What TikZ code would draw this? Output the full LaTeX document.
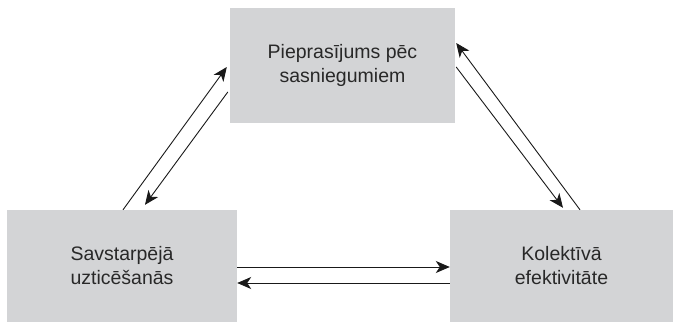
\documentclass[tikz,border=0pt]{standalone}
\usepackage{fontspec}
\setmainfont{Liberation Sans}
\usepackage{tikz}
\usetikzlibrary{arrows.meta,positioning,calc}
\definecolor{boxgray}{RGB}{211,212,214}
\definecolor{textgray}{RGB}{40,40,40}
\definecolor{linegray}{RGB}{25,25,25}

\begin{document}
\begin{tikzpicture}[
    x=1pt, y=1pt,
    factor/.style={rectangle, fill=boxgray, text=textgray, inner sep=0pt, align=center, font=\fontsize{19.5}{24}\selectfont},
    arrow/.style={-{Stealth[length=14pt, width=12pt, inset=4pt]}, draw=linegray, line width=0.9pt}
]
    \useasboundingbox (0,0) rectangle (673,322);

    % Factors
    \node[factor, minimum width=225pt, minimum height=115pt] (pieprasijums) at (342.5,256.5) {Pieprasījums pēc\\sasniegumiem};
    \node[factor, minimum width=230pt, minimum height=112pt] (uzticesanas) at (122,56) {Savstarpējā\\uzticēšanās};
    \node[factor, minimum width=223pt, minimum height=112pt] (efektivitate) at (561.5,56) {Kolektīvā\\efektivitāte};

    % Arrows
    \draw[arrow] ($(uzticesanas.north)+(1,0)$) -- ($(pieprasijums.west)+(-3,-1.5)$);
    \draw[arrow] ($(pieprasijums.west)+(-2,-26.5)$) -- ($(uzticesanas.north)+(23,5)$);
    \draw[arrow] ($(efektivitate.north)+(18.5,0)$) -- ($(pieprasijums.east)+(1,22.5)$);
    \draw[arrow] ($(pieprasijums.east)+(1,-1.5)$) -- ($(efektivitate.north)+(1.5,2)$);
    \draw[arrow] ([yshift=-1pt]uzticesanas.east) -- ([yshift=-1pt]efektivitate.west);
    \draw[arrow] ([yshift=-17pt]efektivitate.west) -- ([yshift=-17pt]uzticesanas.east);
\end{tikzpicture}
\end{document}
